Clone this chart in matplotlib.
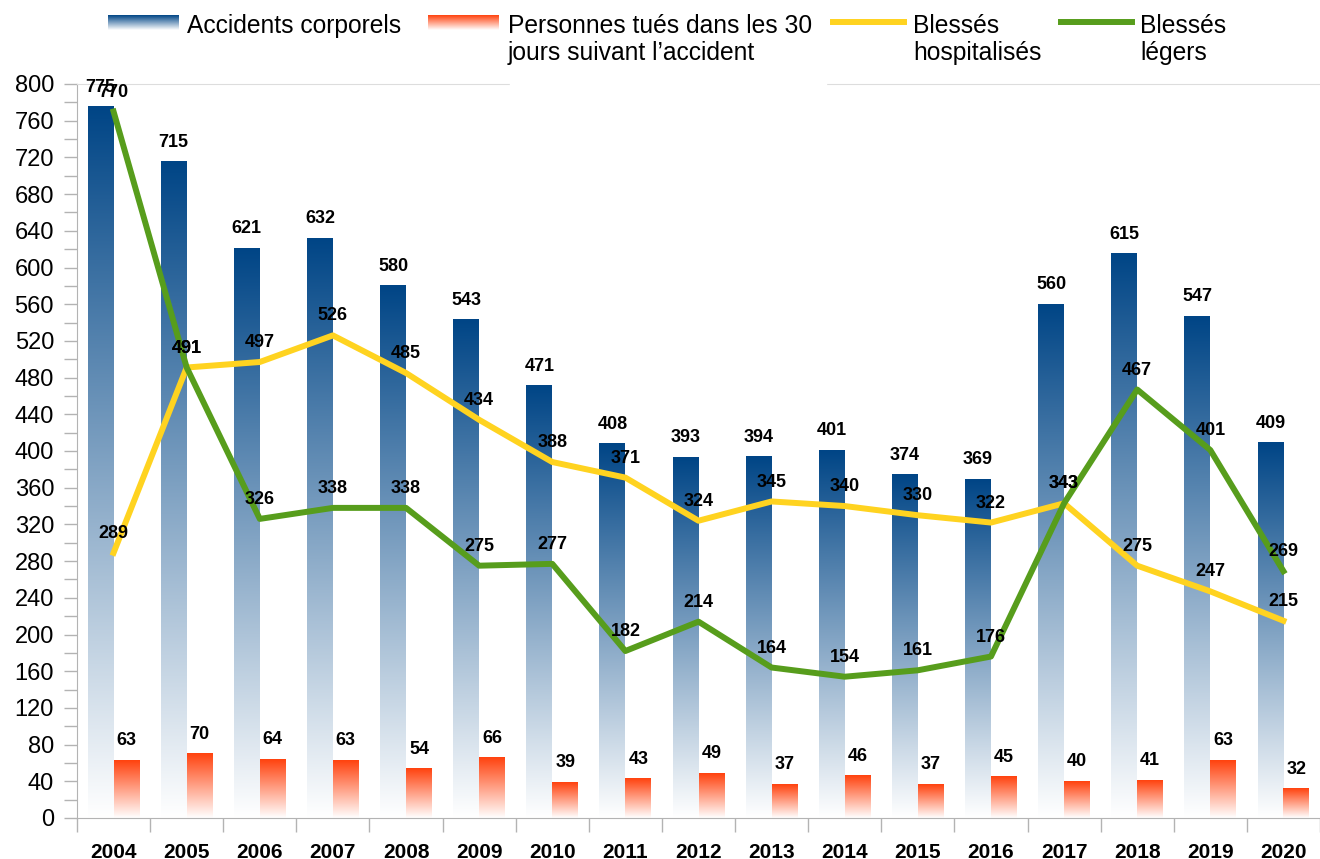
import numpy as np
import matplotlib.pyplot as plt
from matplotlib.colors import LinearSegmentedColormap
from matplotlib.patches import Rectangle
from matplotlib.lines import Line2D

plt.rcParams['font.family'] = ['Liberation Sans', 'DejaVu Sans']

years = ['2004', '2005', '2006', '2007', '2008', '2009', '2010', '2011', '2012',
         '2013', '2014', '2015', '2016', '2017', '2018', '2019', '2020']
accidents = [775, 715, 621, 632, 580, 543, 471, 408, 393, 394, 401, 374, 369, 560, 615, 547, 409]
tues = [63, 70, 64, 63, 54, 66, 39, 43, 49, 37, 46, 37, 45, 40, 41, 63, 32]
hospitalises = [289, 491, 497, 526, 485, 434, 388, 371, 324, 345, 340, 330, 322, 343, 275, 247, 215]
legers = [770, 491, 326, 338, 338, 275, 277, 182, 214, 164, 154, 161, 176, 343, 467, 401, 269]

BLUE = '#004586'
RED = '#ff420e'
YELLOW = '#ffd320'
GREEN = '#579d1c'
GRAY = '#b3b3b3'

W, H = 1320, 859
fig = plt.figure(figsize=(W / 100, H / 100), dpi=100)
ax = fig.add_axes([77 / W, 1 - 818 / H, 1 - 77 / W, (818 - 84) / H])

x = np.arange(len(years))
bw = 0.354
cm_blue = LinearSegmentedColormap.from_list('bleu', ['#ffffff', BLUE])
cm_red = LinearSegmentedColormap.from_list('rouge', ['#ffffff', RED])
grad = np.linspace(0, 1, 256).reshape(-1, 1)

# barres avec dégradé (chaque barre: foncé en haut, blanc en bas)
bars1 = ax.bar(x, accidents, width=-bw, align='edge', color='none')
bars2 = ax.bar(x, tues, width=bw, align='edge', color='none')
for bars, cm in ((bars1, cm_blue), (bars2, cm_red)):
    for b in bars:
        x0 = b.get_x()
        x1 = x0 + b.get_width()
        ax.imshow(grad, cmap=cm, origin='lower', aspect='auto', zorder=1,
                  extent=[min(x0, x1), max(x0, x1), 0, b.get_height()])

# courbes
ax.plot(x, hospitalises, color=YELLOW, lw=4.3, zorder=3)
ax.plot(x, legers, color=GREEN, lw=4.3, zorder=3)

# étiquettes
lab = dict(textcoords='offset points', ha='center', va='center',
           fontsize=13, fontweight='bold', zorder=5)
for i in range(len(years)):
    ax.annotate(str(accidents[i]), (x[i] - bw / 2, accidents[i]), xytext=(0, 14), **lab)
    ax.annotate(str(tues[i]), (x[i] + bw / 2, tues[i]), xytext=(0, 14), **lab)
    ax.annotate(str(hospitalises[i]), (x[i], hospitalises[i]), xytext=(0, 14), **lab)
    ax.annotate(str(legers[i]), (x[i], legers[i]), xytext=(0, 14), **lab)

# axes
ax.set_xlim(-0.5, len(years) - 0.5)
ax.set_ylim(0, 800)
ax.set_yticks(range(0, 801, 40))
ax.set_yticks(range(0, 801, 20), minor=True)
ax.tick_params(axis='y', which='both', length=9.5, width=1, color=GRAY, labelsize=17, pad=7)
ax.set_xticks(x)
ax.set_xticklabels(years, fontweight='bold', fontsize=15)
ax.set_xticks(np.arange(-0.5, len(years), 1), minor=True)
ax.tick_params(axis='x', which='major', length=0, pad=18)
ax.tick_params(axis='x', which='minor', length=10, width=1, color=GRAY)
ax.spines['left'].set_color(GRAY)
ax.spines['bottom'].set_color(GRAY)
ax.spines['top'].set_color('#dddddd')
ax.spines['right'].set_visible(False)

# fond blanc de la légende sur le bord haut
fig.patches.append(Rectangle((510 / W, 1 - 90 / H), (826 - 510) / W, 10 / H,
                             transform=fig.transFigure, color='white', zorder=10))

# légende
def grad_handle(x0, x1, y0, y1, cm):
    a = fig.add_axes([x0 / W, 1 - y1 / H, (x1 - x0) / W, (y1 - y0) / H])
    a.imshow(grad, cmap=cm, origin='lower', aspect='auto')
    a.axis('off')

grad_handle(108, 179, 15, 30, cm_blue)
grad_handle(428, 499, 15, 30, cm_red)
fig.add_artist(Line2D([833 / W, 904 / W], [1 - 22 / H] * 2, color=YELLOW, lw=4.3,
                      transform=fig.transFigure))
fig.add_artist(Line2D([1061 / W, 1132 / W], [1 - 22 / H] * 2, color=GREEN, lw=4.3,
                      transform=fig.transFigure))
leg = dict(fontsize=17.7, va='top', ha='left', linespacing=1.15, zorder=11)
fig.text(187 / W, 1 - 14 / H, 'Accidents corporels', **leg)
fig.text(508 / W, 1 - 14 / H, 'Personnes tués dans les 30\njours suivant l’accident', **leg)
fig.text(913 / W, 1 - 14 / H, 'Blessés\nhospitalisés', **leg)
fig.text(1140 / W, 1 - 14 / H, 'Blessés\nlégers', **leg)

fig.savefig('out.png', dpi=100)
